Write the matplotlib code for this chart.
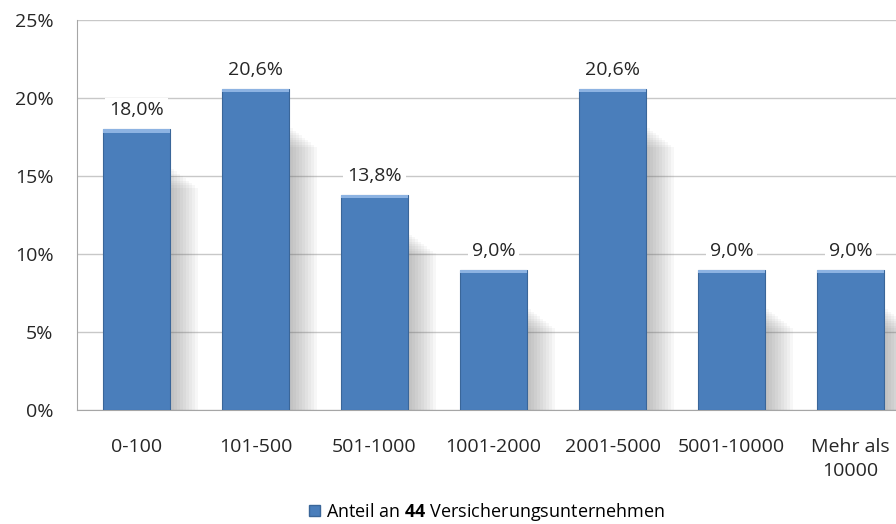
import numpy as np
import matplotlib.pyplot as plt
from matplotlib.patches import Rectangle
from matplotlib.ticker import FuncFormatter

categories = ['0-100', '101-500', '501-1000', '1001-2000', '2001-5000',
              '5001-10000', 'Mehr als\n10000']
shares = [18.0, 20.6, 13.8, 9.0, 20.6, 9.0, 9.0]
yticks = [0, 5, 10, 15, 20, 25]

plt.rcParams['font.family'] = ['Open Sans', 'DejaVu Sans']
plt.rcParams['mathtext.fontset'] = 'custom'
plt.rcParams['mathtext.bf'] = 'Open Sans:bold'

fig = plt.figure(figsize=(8.96, 5.24), dpi=100)
ax = fig.add_axes([77 / 896, 1 - 410 / 524, 1 - 77 / 896, 390 / 524])

x = np.arange(len(categories))
width = 0.565

# soft shadow behind bars
for xi, v in zip(x, shares):
    top = v - 2.4
    for k in range(10):
        ax.add_patch(Rectangle((xi + width / 2 - 0.05, 0), 0.06 + k * 0.025, top - k * 0.15,
                               facecolor='#707070', alpha=0.055, lw=0, zorder=1))

bars = ax.bar(x, shares, width=width, color='#4A7EBB', edgecolor='#3A6699',
              linewidth=0.8, zorder=3)
# lighter top rim
for xi, v in zip(x, shares):
    ax.add_patch(Rectangle((xi - width / 2, v - 0.22), width, 0.22,
                           facecolor='#8DB3E2', lw=0, zorder=4))

for xi, v in zip(x, shares):
    ax.annotate(f'{v:.1f}%'.replace('.', ','), (xi, v), xytext=(0, 7),
                textcoords='offset points', ha='center', va='bottom',
                fontsize=14, color='#262626', zorder=5,
                bbox=dict(boxstyle='square,pad=0.2', fc='white', ec='none'))

ax.set_ylim(0, 25)
ax.set_xlim(-0.5, (896 - 77) / 119 - 0.5)
ax.set_yticks(yticks)
ax.yaxis.set_major_formatter(FuncFormatter(lambda v, p: f'{v:.0f}%'))
ax.set_xticks(x)
ax.set_xticklabels(categories, linespacing=1.45)
ax.tick_params(axis='both', length=0, labelsize=14, labelcolor='#262626')
ax.tick_params(axis='x', pad=20)
ax.tick_params(axis='y', pad=17)
ax.grid(axis='y', color='#C8C8C8', linewidth=1, zorder=0)
ax.set_axisbelow(True)
for s in ['top', 'right']:
    ax.spines[s].set_visible(False)
ax.spines['left'].set_color('#A6A6A6')
ax.spines['bottom'].set_color('#A6A6A6')

handle = Rectangle((0, 0), 1, 1, facecolor='#4A7EBB', edgecolor='#3A6699')
fig.legend([handle], [r'Anteil an $\mathbf{44}$ Versicherungsunternehmen'],
           loc='center', bbox_to_anchor=(487 / 896, 1 - 512 / 524), frameon=False,
           fontsize=13, handlelength=0.6, handleheight=0.6, handletextpad=0.3)

fig.savefig('out.png', dpi=100)
